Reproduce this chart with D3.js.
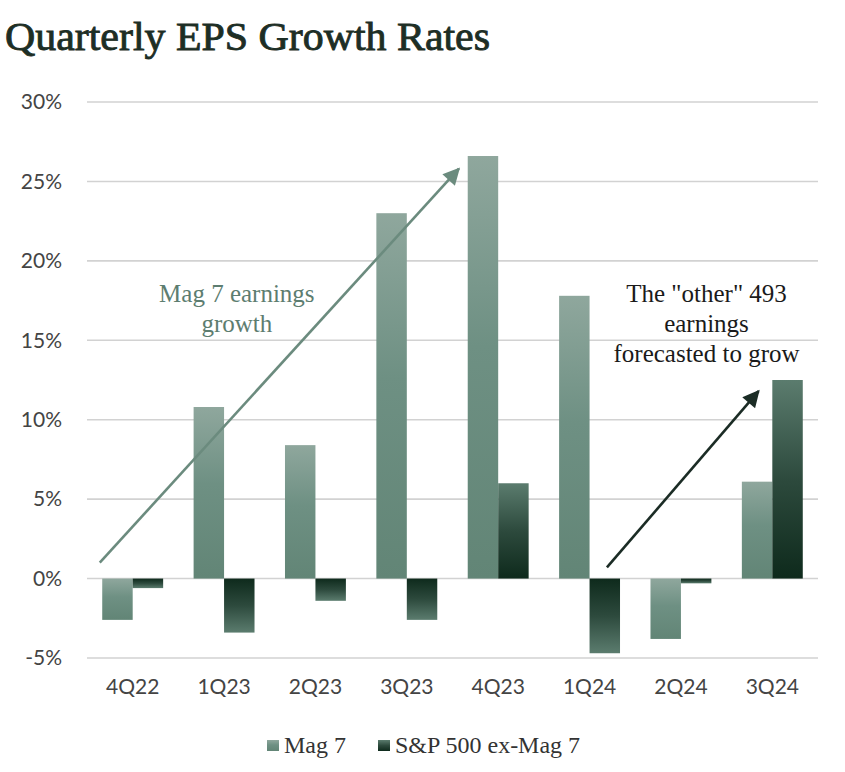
<!DOCTYPE html>
<html>
<head>
<meta charset="utf-8">
<script src="https://cdn.jsdelivr.net/npm/d3@7"></script>
<style>
  html, body { margin: 0; padding: 0; background: #ffffff; }
  svg { display: block; }
</style>
</head>
<body>
<svg id="chart" width="845" height="772"></svg>
<script>
// ---- Data ----
const categories = ["4Q22", "1Q23", "2Q23", "3Q23", "4Q23", "1Q24", "2Q24", "3Q24"];
const seriesNames = ["Mag 7", "S&P 500 ex-Mag 7"];
const mag7 = [-2.6, 10.8, 8.4, 23.0, 26.6, 17.8, -3.8, 6.1];
const sp493 = [-0.6, -3.4, -1.4, -2.6, 6.0, -4.7, -0.3, 12.5];
const yTicks = [-5, 0, 5, 10, 15, 20, 25, 30];
const titleText = "Quarterly EPS Growth Rates";
// annotations: positions in category-index units (x) and percent (y)
const arrow1 = { from: [0.14, 1.0], to: [4.07, 25.8] };
const arrow2 = { from: [5.69, 0.7], to: [7.35, 11.8] };
const note1 = { lines: ["Mag 7 earnings", "growth"], at: [1.64, 17.4] };
const note2 = { lines: ['The "other" 493', "earnings", "forecasted to grow"], at: [6.78, 17.4] };

const svg = d3.select("#chart");
const margin = { left: 87, right: 27, top: 102, bottom: 114 };
const W = 845, H = 772;

const y = d3.scaleLinear().domain([-5, 30]).range([H - margin.bottom, margin.top]);
const x0 = d3.scaleBand().domain(categories).range([margin.left, W - margin.right]).paddingInner(0).paddingOuter(0);
const x1 = d3.scaleBand().domain(seriesNames).range([0, x0.bandwidth()]).paddingInner(0).paddingOuter(0.5);
const xIdx = d3.scaleLinear().domain([0, categories.length]).range([margin.left, W - margin.right]);

// gradients
const defs = svg.append("defs");
function grad(id, stops) {
  const g = defs.append("linearGradient").attr("id", id)
    .attr("x1", 0).attr("y1", 0).attr("x2", 0).attr("y2", 1);
  stops.forEach(s => g.append("stop").attr("offset", s[0]).attr("stop-color", s[1]));
}
grad("gMag", [[0, "#8fa79d"], [0.45, "#6e9083"], [1, "#628576"]]);
grad("gSpPos", [[0, "#5b7c6e"], [0.5, "#2d4a3d"], [1, "#0e2a1c"]]);
grad("gSpNeg", [[0, "#0e2a1c"], [0.5, "#2d4a3d"], [1, "#5b7c6e"]]);

// markers
function marker(id, color) {
  defs.append("marker").attr("id", id)
    .attr("viewBox", "0 0 10 10").attr("refX", 9).attr("refY", 5)
    .attr("markerWidth", 7).attr("markerHeight", 6.5).attr("markerUnits", "strokeWidth")
    .attr("orient", "auto")
    .append("path").attr("d", "M0,0 L10,5 L0,10 Z").attr("fill", color);
}
marker("m1", "#6b8b7e");
marker("m2", "#1b2c25");

// title
svg.append("text")
  .attr("x", 5).attr("y", 50)
  .attr("font-family", "Liberation Serif, serif")
  .attr("font-size", 41)
  .attr("fill", "#1d2e25").attr("stroke", "#1d2e25").attr("stroke-width", 0.9)
  .attr("textLength", 485).attr("lengthAdjust", "spacingAndGlyphs")
  .text(titleText);

// gridlines
svg.append("g").selectAll("line").data(yTicks).join("line")
  .attr("x1", margin.left).attr("x2", W - margin.right)
  .attr("y1", d => y(d)).attr("y2", d => y(d))
  .attr("stroke", "#d2d2d2").attr("stroke-width", 1.6);

// y axis labels
const yAxis = d3.axisLeft(y).tickValues(yTicks).tickFormat(d => d + "%").tickSize(0).tickPadding(0);
const ya = svg.append("g").attr("transform", `translate(62,0)`).call(yAxis);
ya.select(".domain").remove();
ya.selectAll("text").attr("font-family", "Lato, sans-serif").attr("font-size", 21).attr("fill", "#444");

// x axis labels
const xAxis = d3.axisBottom(x0).tickSize(0).tickPadding(0);
const xa = svg.append("g").attr("transform", `translate(0,${679})`).call(xAxis);
xa.select(".domain").remove();
xa.selectAll("text").attr("font-family", "Lato, sans-serif").attr("font-size", 21).attr("fill", "#444");

// bars
const rows = categories.map((c, i) => ({ c, vals: [mag7[i], sp493[i]] }));
const groups = svg.append("g").selectAll("g").data(rows).join("g")
  .attr("transform", d => `translate(${x0(d.c)},0)`);
groups.selectAll("rect").data(d => d.vals.map((v, j) => ({ s: seriesNames[j], v, j }))).join("rect")
  .attr("x", d => x1(d.s))
  .attr("width", x1.bandwidth())
  .attr("y", d => y(Math.max(0, d.v)))
  .attr("height", d => Math.abs(y(d.v) - y(0)))
  .attr("fill", d => d.j === 0 ? "url(#gMag)" : (d.v >= 0 ? "url(#gSpPos)" : "url(#gSpNeg)"));

// arrows
function drawArrow(a, color, mid) {
  svg.append("line")
    .attr("x1", xIdx(a.from[0])).attr("y1", y(a.from[1]))
    .attr("x2", xIdx(a.to[0])).attr("y2", y(a.to[1]))
    .attr("stroke", color).attr("stroke-width", 2.6)
    .attr("marker-end", `url(#${mid})`);
}
drawArrow(arrow1, "#6b8b7e", "m1");
drawArrow(arrow2, "#1b2c25", "m2");

// notes
function drawNote(n, color) {
  const t = svg.append("text")
    .attr("font-family", "Liberation Serif, serif").attr("font-size", 25)
    .attr("fill", color).attr("text-anchor", "middle");
  n.lines.forEach((l, i) => {
    t.append("tspan").attr("x", xIdx(n.at[0])).attr("y", y(n.at[1]) + i * 30).text(l);
  });
}
drawNote(note1, "#5d7d70");
drawNote(note2, "#1a1a1a");

// legend
const legendItems = [
  { name: seriesNames[0], fill: "url(#gMag)", x: 267 },
  { name: seriesNames[1], fill: "url(#gSpPos)", x: 378 }
];
const lg = svg.append("g").selectAll("g").data(legendItems).join("g")
  .attr("transform", d => `translate(${d.x},740)`);
lg.append("rect").attr("width", 12).attr("height", 11).attr("fill", d => d.fill);
lg.append("text").attr("x", 17).attr("y", 13)
  .attr("font-family", "Liberation Serif, serif").attr("font-size", 24).attr("fill", "#333")
  .text(d => d.name);
</script>
</body>
</html>
